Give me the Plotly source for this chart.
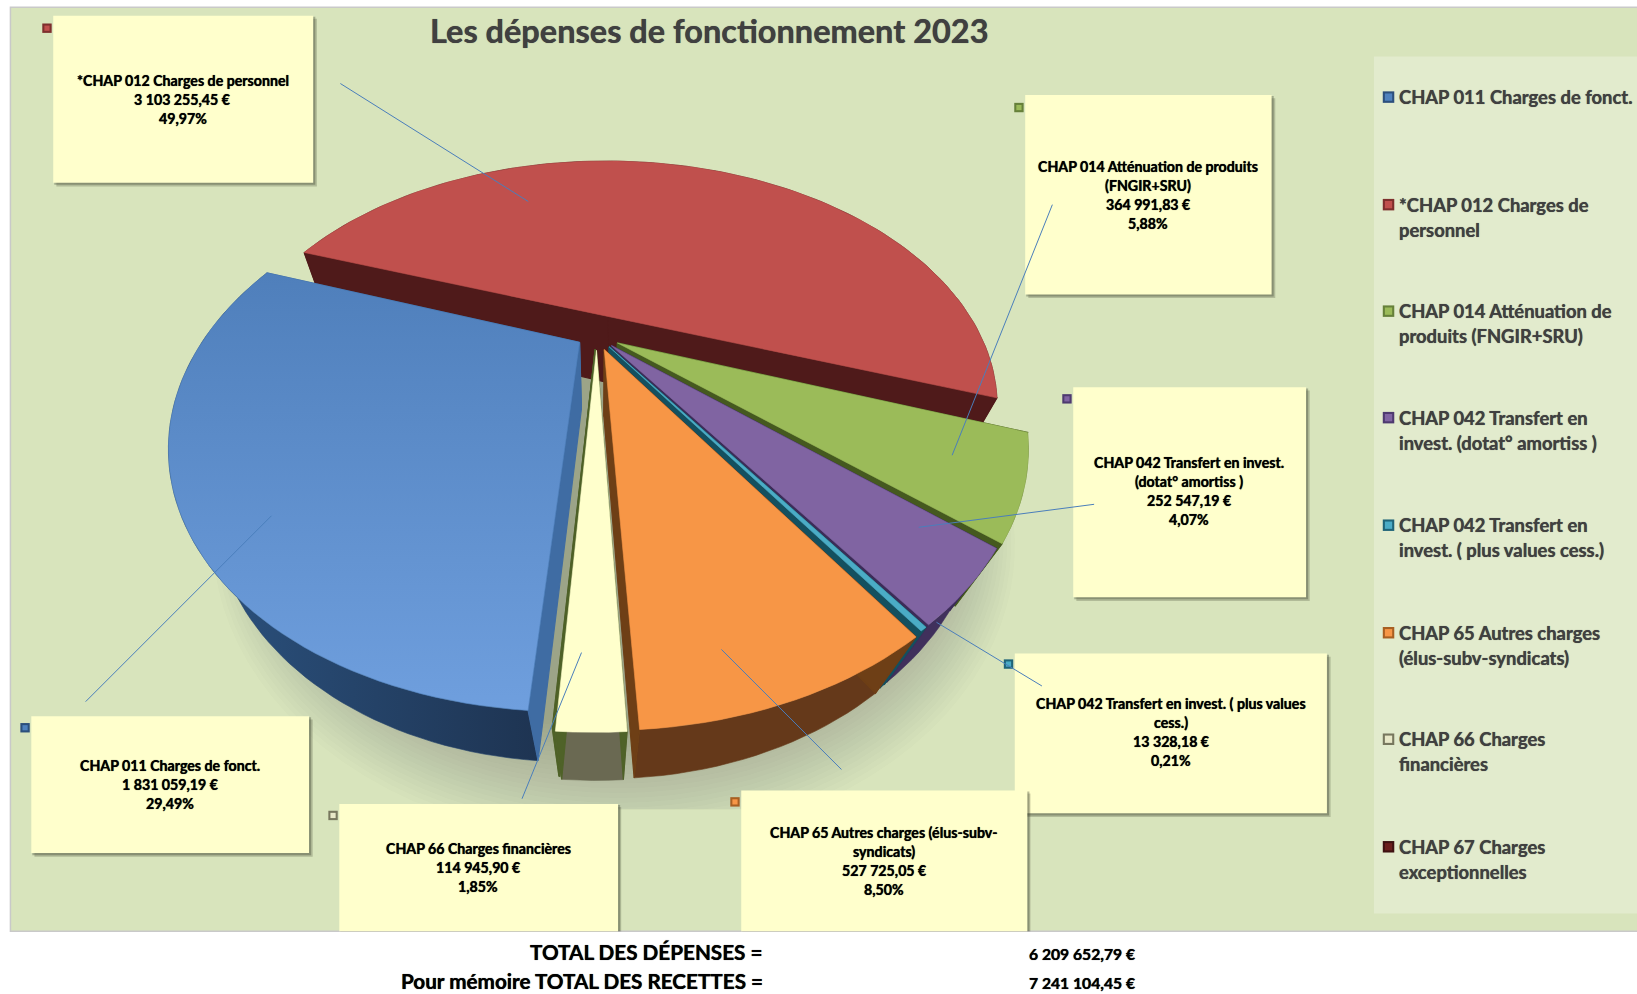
import math
import plotly.graph_objects as go

# ---- data ----
CATEGORIES = ["CHAP 011 Charges de fonct.", "*CHAP 012 Charges de personnel",
              "CHAP 014 Atténuation de produits (FNGIR+SRU)", "CHAP 042 Transfert en invest. (dotat° amortiss )",
              "CHAP 042 Transfert en invest. ( plus values cess.)", "CHAP 65 Autres charges (élus-subv-syndicats)",
              "CHAP 66 Charges financières", "CHAP 67 Charges exceptionnelles"]
VALUES = [1831059.19, 3103255.45, 364991.83, 252547.19, 13328.18, 527725.05, 114945.90, 1800.00]
AMOUNT_LABELS = ["1 831 059,19 €", "3 103 255,45 €", "364 991,83 €", "252 547,19 €",
                 "13 328,18 €", "527 725,05 €", "114 945,90 €", ""]
PERCENT_LABELS = ["29,49%", "49,97%", "5,88%", "4,07%", "0,21%", "8,50%", "1,85%", ""]
TOTAL_DEPENSES = "6 209 652,79 €"
TOTAL_RECETTES = "7 241 104,45 €"

# ---- styles ----
FONT = "Lato"
THICK = "0 0 0.7px"
TOP = ["#4F81BD", "#C0504D", "#9BBB59", "#8064A2", "#4BACC6", "#F79646", "#FFFFCC", "#4F6228"]
RIM = ["#24426A", "#4F1A1A", "#5F7530", "#40305C", "#17505F", "#65391A", "#6A6952", "#4F6228"]
WALL = ["#3F6CA3", "#4F1A1A", "#45591F", "#3C2C58", "#14505F", "#6E3F16", "#4F6228", "#4F6228"]
EXPLODE = [0.055, 0.095, 0.065, 0.06, 0.06, 0.065, 0.065, 0.06]
DRAW_ORDER = [1, 7, 2, 3, 4, 5, 6, 0]
START_DEG = 93.7
XC, YC, RX, RY, PERSP = 575, 330, 356, 218, 0.37
CU, CV, RADIUS = -0.01, -0.04, 1.02
DEPTH_W, DEPTH_Y = 0.10, 70
SHADOW_CLIP_Y = 775


def project(u, v, h=0.0):
    w = 1 - PERSP * v + DEPTH_W * h
    return XC + RX * u / w, YC + (RY * v + DEPTH_Y * h) / w


def poly(points, color=None, gradient=None, name=None, width=0.6):
    closed = list(points) + [points[0]]
    xs = [p[0] for p in closed]
    ys = [p[1] for p in closed]
    kw = dict(x=xs, y=ys, mode="lines", fill="toself", showlegend=False,
              hoverinfo="skip", line=dict(width=width, color=color or gradient[0]))
    if gradient:
        kw["fillgradient"] = dict(type=gradient[1], colorscale=[[0, gradient[0]], [1, gradient[2]]])
    else:
        kw["fillcolor"] = color
    if name:
        kw.update(hoverinfo="text", hovertext=name)
    return go.Scatter(**kw)


fig = go.Figure()

# ground shadow of the pie
for i in range(26):
    r = 1.12 - i * 0.009
    ring = [project(0.035 + r * math.cos(math.radians(a)), 0.02 + r * math.sin(math.radians(a)), 1.25)
            for a in range(0, 361, 3)]
    fig.add_trace(go.Scatter(x=[p[0] for p in ring], y=[min(p[1], SHADOW_CLIP_Y) for p in ring], mode="lines",
                             fill="toself", line=dict(width=0), fillcolor="rgba(70,75,50,0.016)",
                             showlegend=False, hoverinfo="skip"))

total = sum(VALUES)
spans = []
a0 = START_DEG
for val in VALUES:
    a1 = a0 + 360 * val / total
    spans.append((a0, a1))
    a0 = a1

for i in DRAW_ORDER:
    a0, a1 = spans[i]
    mid = math.radians((a0 + a1) / 2)
    au = CU + EXPLODE[i] * math.cos(mid)
    av = CV + EXPLODE[i] * math.sin(mid)
    n = max(2, int((a1 - a0) / 1.5))
    arc = []
    for k in range(n + 1):
        t = math.radians(a0 + (a1 - a0) * k / n)
        arc.append((au + RADIUS * math.cos(t), av + RADIUS * math.sin(t)))
    top_arc = [project(u, v) for u, v in arc]
    low_arc = [project(u, v, 1) for u, v in arc]
    apex_t, apex_b = project(au, av), project(au, av, 1)
    rim_grad = ("#2C5482", "horizontal", "#1E3452") if i == 0 else None
    fig.add_trace(poly(top_arc + low_arc[::-1], RIM[i], rim_grad))
    fig.add_trace(poly([apex_t, top_arc[-1], low_arc[-1], apex_b], WALL[i], width=1.2))
    fig.add_trace(poly([apex_t, top_arc[0], low_arc[0], apex_b], WALL[i], width=1.2))
    top_grad = ("#6F9FDE", "vertical", "#4F7FBB") if i == 0 else None
    fig.add_trace(poly([apex_t] + top_arc, TOP[i], top_grad,
                       name=f"{CATEGORIES[i]}<br>{AMOUNT_LABELS[i]}<br>{PERCENT_LABELS[i]}"))

shapes = []
ann = []


def rect(x0, y0, x1, y1, fill, line=None):
    shapes.append(dict(type="rect", x0=x0, y0=y0, x1=x1, y1=y1, xref="x", yref="y", fillcolor=fill,
                       line=dict(width=1 if line else 0, color=line or fill), layer="above"))


def key(cx, cy, color, dark, size=5.5):
    rect(cx - size, cy - size, cx + size, cy + size, dark)
    rect(cx - size + 2, cy - size + 2, cx + size - 2, cy + size - 2, color)


def text(x, y, s, size, color="#000000", anchor="center", align="center"):
    ann.append(dict(x=x, y=y, xref="x", yref="y", text=s, showarrow=False, xanchor=anchor, yanchor="middle",
                    align=align, font=dict(family=FONT, size=size, color=color, weight="bold",
                                           shadow=f"{THICK} {color}")))


# legend panel
rect(1316, 54, 1568, 875, "rgba(255,255,255,0.25)")
LEGEND_Y = [93, 196, 298, 400, 503, 606, 708, 811]
LEGEND_LINES = [["CHAP 011 Charges de fonct."], ["*CHAP 012 Charges de", "personnel"],
                ["CHAP 014 Atténuation de", "produits (FNGIR+SRU)"], ["CHAP 042 Transfert en", "invest. (dotat° amortiss )"],
                ["CHAP 042 Transfert en", "invest. ( plus values cess.)"], ["CHAP 65 Autres charges", "(élus-subv-syndicats)"],
                ["CHAP 66 Charges", "financières"], ["CHAP 67 Charges", "exceptionnelles"]]
KEY_FILL = ["#4F81BD", "#C0504D", "#9BBB59", "#8064A2", "#4BACC6", "#F79646", "#E8E8C8", "#6B1F1D"]
KEY_DARK = ["#2C4F7C", "#7E2F2D", "#66803A", "#4E3A70", "#1F6478", "#A85F22", "#77775E", "#3F1212"]
for i, (ly, ll) in enumerate(zip(LEGEND_Y, LEGEND_LINES)):
    key(1330, ly, KEY_FILL[i], KEY_DARK[i])
    for j, line in enumerate(ll):
        text(1338, ly + 24 * j, line, 18.4, "#404040", "left", "left")

# data label boxes: x0, y0, x1, y1, text centre, key position, leader line
BOXES = {
    1: ((51, 15, 300, 175), (175, 95.5), (45, 27), (326, 80, 506, 193), ["*CHAP 012 Charges de personnel"]),
    2: ((982, 91, 1218, 282), (1100, 187), (976, 103), (1008, 196, 912, 436), ["CHAP 014 Atténuation de produits", "(FNGIR+SRU)"]),
    3: ((1028, 371, 1251, 572), (1139, 471), (1022, 382), (1048, 483, 880, 505), ["CHAP 042 Transfert en invest.", "(dotat° amortiss )"]),
    4: ((972, 626, 1271, 779), (1122, 702), (966, 636), (998, 657, 897, 596), ["CHAP 042 Transfert en invest. ( plus values", "cess.)"]),
    5: ((710, 757, 984, 892), (847, 825), (704, 768), (806, 737, 691, 622), ["CHAP 65 Autres charges (élus-subv-", "syndicats)"]),
    6: ((325, 770, 592, 892), (458, 831), (319, 781), (500, 765, 557, 625), ["CHAP 66 Charges financières"]),
    0: ((30, 686, 296, 817), (163, 752), (24, 697), (82, 672, 260, 494), ["CHAP 011 Charges de fonct."]),
}
for i, (box, tc, kp, ld, lines) in BOXES.items():
    key(kp[0], kp[1], KEY_FILL[i], KEY_DARK[i], 4.5)
    if box[3] < 892:
        rect(box[0] + 3, box[1] + 3, box[2] + 3.5, box[3] + 3.5, "rgba(60,65,45,0.25)")
    else:
        rect(box[2], box[1] + 3, box[2] + 3, box[3], "rgba(60,65,45,0.25)")
    rect(box[0] + 1, box[1] + 1, box[2] + 2, min(box[3] + 2, 892), "rgba(60,65,45,0.35)")
    rect(box[0], box[1], box[2], box[3], "#FFFFCC")
    all_lines = lines + [AMOUNT_LABELS[i], PERCENT_LABELS[i]]
    for j, line in enumerate(all_lines):
        text(tc[0], tc[1] + 18.2 * (j - (len(all_lines) - 1) / 2) - 0.5, line, 14.2)
for i, (box, tc, kp, ld, lines) in BOXES.items():
    shapes.append(dict(type="line", x0=ld[0], y0=ld[1], x1=ld[2], y1=ld[3], xref="x", yref="y",
                       line=dict(color="#4A7EBB", width=1), layer="above"))

text(680, 29.5, "Les dépenses de fonctionnement 2023", 32.5, "#404040")
text(733, 911.5, "TOTAL DES DÉPENSES =", 20.7, "#000000", "right", "right")
text(733, 940, "Pour mémoire TOTAL DES RECETTES =", 20.7, "#000000", "right", "right")
text(984, 913.5, TOTAL_DEPENSES, 15.7, "#000000", "left", "left")
text(984, 941.5, TOTAL_RECETTES, 15.7, "#000000", "left", "left")

bg = dict(type="rect", x0=10, y0=7, x1=1575, y1=892, xref="x", yref="y", fillcolor="#D8E4BC",
          line=dict(color="#C9C9C9", width=1.5), layer="below")

fig.update_layout(
    width=1637, height=994, margin=dict(l=0, r=0, t=0, b=0),
    paper_bgcolor="#FFFFFF", plot_bgcolor="#FFFFFF", showlegend=False,
    xaxis=dict(range=[0, 1568], visible=False, fixedrange=True),
    yaxis=dict(range=[952, 0], visible=False, fixedrange=True),
    shapes=[bg] + shapes, annotations=ann,
)
fig.write_html("out.html", config=dict(displayModeBar=False),
               post_script="document.body.style.margin='0';document.body.style.overflow='hidden';")
